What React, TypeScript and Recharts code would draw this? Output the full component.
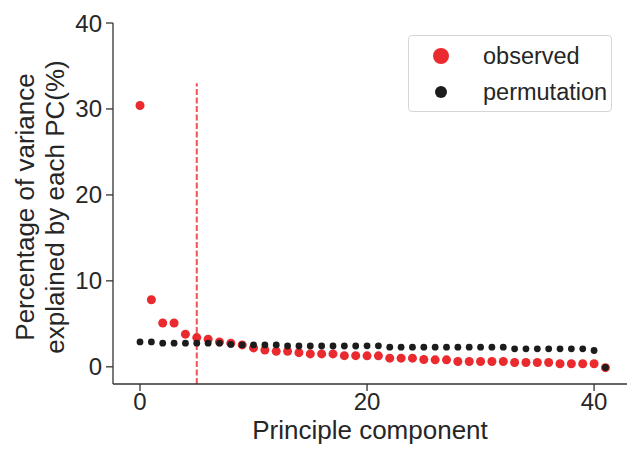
import React from "react";
import {
  ScatterChart,
  Scatter,
  XAxis,
  YAxis,
  ReferenceLine,
} from "recharts";

const components: number[] = Array.from({ length: 42 }, (_, i) => i);

const observed: number[] = [
  30.4, 7.8, 5.1, 5.1, 3.8, 3.4, 3.2, 2.9, 2.75, 2.55,
  2.2, 1.95, 1.8, 1.8, 1.65, 1.5, 1.5, 1.5, 1.3, 1.3,
  1.28, 1.28, 1.01, 1.01, 1.01, 0.85, 0.81, 0.81, 0.62, 0.62,
  0.62, 0.62, 0.62, 0.5, 0.5, 0.5, 0.5, 0.35, 0.35, 0.35,
  0.35, -0.1,
];

const permutation: number[] = [
  2.9, 2.9, 2.75, 2.75, 2.75, 2.75, 2.75, 2.75, 2.6, 2.55,
  2.55, 2.55, 2.55, 2.42, 2.42, 2.42, 2.42, 2.42, 2.42, 2.42,
  2.44, 2.44, 2.29, 2.29, 2.29, 2.29, 2.29, 2.29, 2.29, 2.29,
  2.29, 2.29, 2.29, 2.09, 2.09, 2.09, 2.09, 2.09, 2.09, 2.09,
  1.9, -0.08,
];

const xTicks: number[] = [0, 20, 40];
const yTicks: number[] = [0, 10, 20, 30, 40];
const cutoffPC = 5;
const cutoffTop = 33;

const seriesNames = ["observed", "permutation"];
const RED = "#ea2a2f";
const BLACK = "#1c1c1c";
const TEXT = "#262626";
const AXIS = "#333333";
const FONT = "'Liberation Sans', Arial, Helvetica, sans-serif";

const observedData = components.map((pc, i) => ({ pc, v: observed[i] }));
const permutationData = components.map((pc, i) => ({ pc, v: permutation[i] }));

const dot = (r: number, fill: string) => (props: any) => {
  const { cx, cy } = props;
  if (cx == null || cy == null) return <g />;
  return <circle cx={cx} cy={cy} r={r} fill={fill} stroke="none" />;
};

const YLabel = () => (
  <g fontFamily={FONT} fontSize={26} fill={TEXT}>
    <text transform="translate(34, 207) rotate(-90)" textAnchor="middle">
      Percentage of variance
    </text>
    <text transform="translate(64, 207) rotate(-90)" textAnchor="middle">
      explained by each PC(%)
    </text>
  </g>
);

const XLabel = () => (
  <text
    x={370}
    y={439}
    textAnchor="middle"
    fontFamily={FONT}
    fontSize={26}
    fill={TEXT}
  >
    Principle component
  </text>
);

export default function App() {
  return (
    <div style={{ position: "absolute", left: 0, top: 0, width: 627, height: 450, background: "#fff" }}>
      <ScatterChart
        width={627}
        height={450}
        margin={{ top: 23, right: 0, bottom: 0, left: 0 }}
      >
        <XAxis
          type="number"
          dataKey="pc"
          domain={[-2.38, 42.9]}
          ticks={xTicks}
          allowDataOverflow
          height={66}
          stroke={AXIS}
          strokeWidth={1.3}
          tickSize={7}
          tickMargin={2}
          tick={{ fill: TEXT, fontSize: 24, fontFamily: FONT }}
          label={<XLabel />}
        />
        <YAxis
          type="number"
          dataKey="v"
          domain={[-2, 40]}
          ticks={yTicks}
          allowDataOverflow
          width={113}
          stroke={AXIS}
          strokeWidth={1.3}
          tickSize={7}
          tickMargin={4}
          tick={{ fill: TEXT, fontSize: 24, fontFamily: FONT }}
          label={<YLabel />}
        />
        <ReferenceLine
          segment={[
            { x: cutoffPC, y: -2 },
            { x: cutoffPC, y: cutoffTop },
          ]}
          stroke="#ef5356"
          strokeWidth={2}
          strokeDasharray="6 2.5"
        />
        <Scatter
          name={seriesNames[0]}
          data={observedData}
          shape={dot(4.5, RED)}
          isAnimationActive={false}
        />
        <Scatter
          name={seriesNames[1]}
          data={permutationData}
          shape={dot(3.4, BLACK)}
          isAnimationActive={false}
        />
      </ScatterChart>
      <div
        style={{
          position: "absolute",
          left: 408,
          top: 35,
          width: 204,
          height: 77,
          border: "1px solid #d6d6d6",
          borderRadius: 4,
          background: "rgba(255,255,255,0.8)",
          boxSizing: "border-box",
          fontFamily: FONT,
          fontSize: 23.5,
          color: TEXT,
        }}
      >
        <svg width={204} height={77} style={{ position: "absolute", left: -1, top: -1 }}>
          <circle cx={33} cy={21} r={8} fill={RED} />
          <circle cx={33} cy={57} r={6} fill={BLACK} />
          <text x={75} y={29} fontFamily={FONT} fontSize={23.5} fill={TEXT}>
            {seriesNames[0]}
          </text>
          <text x={75} y={65} fontFamily={FONT} fontSize={23.5} fill={TEXT}>
            {seriesNames[1]}
          </text>
        </svg>
      </div>
    </div>
  );
}
